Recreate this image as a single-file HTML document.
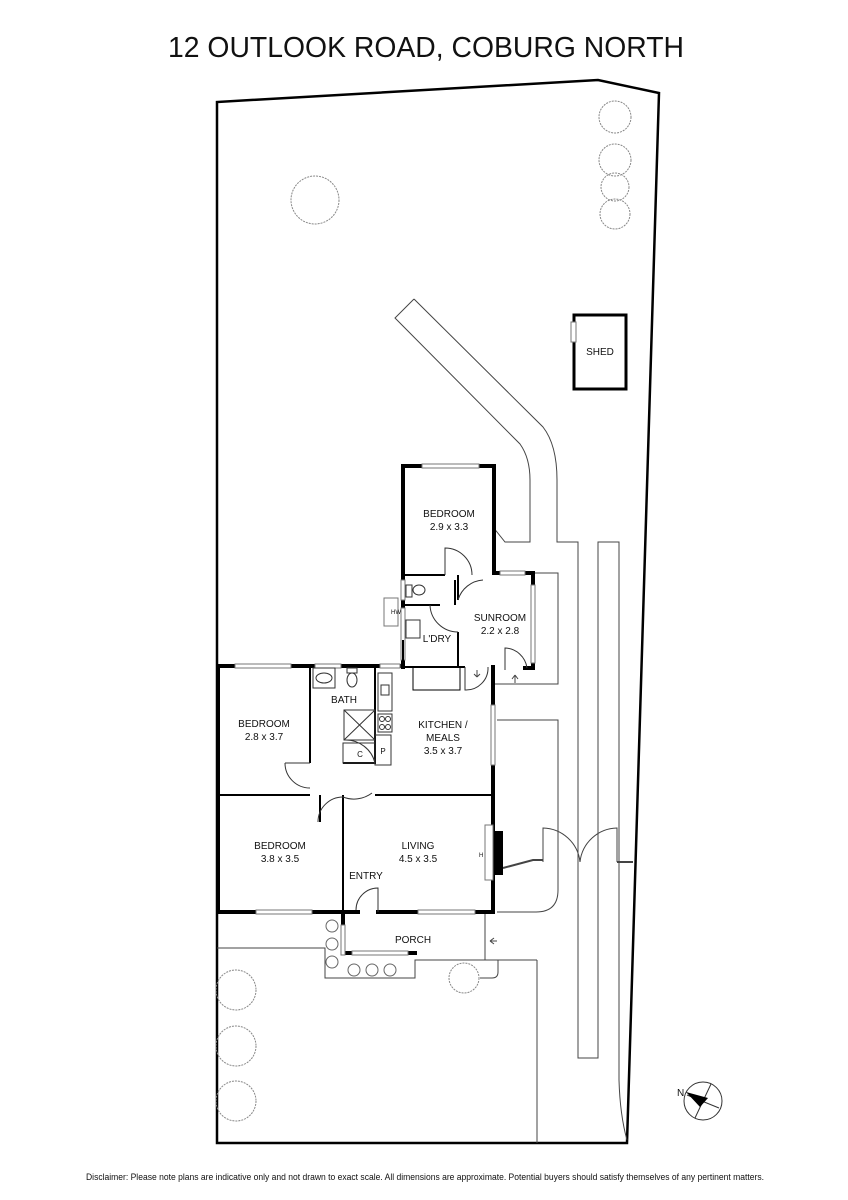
<!DOCTYPE html>
<html><head><meta charset="utf-8"><style>
html,body{margin:0;padding:0;background:#fff;}
svg{display:block;}
text{font-family:"Liberation Sans",Arial,sans-serif;fill:#111;}
</style></head><body>
<svg width="848" height="1200" viewBox="0 0 848 1200" xmlns="http://www.w3.org/2000/svg">
<rect width="848" height="1200" fill="#fff"/>
<text x="426" y="57" font-size="29" text-anchor="middle" textLength="516" lengthAdjust="spacingAndGlyphs">12 OUTLOOK ROAD, COBURG NORTH</text>

<!-- boundary -->
<path d="M217,1143 V102 L598,80 L659,93 L627,1143 Z" fill="none" stroke="#000" stroke-width="2.5"/>

<!-- trees -->
<g fill="none" stroke="#888" stroke-width="1" stroke-dasharray="2,1">
<circle cx="315" cy="200" r="24"/>
<circle cx="615" cy="117" r="16"/><circle cx="615" cy="160" r="16"/><circle cx="615" cy="187" r="14"/><circle cx="615" cy="214" r="15"/>
<circle cx="236" cy="990" r="20"/><circle cx="236" cy="1046" r="20"/><circle cx="236" cy="1101" r="20"/>
<circle cx="464" cy="978" r="15"/>
</g>
<g fill="none" stroke="#666" stroke-width="1">
<circle cx="332" cy="926" r="6"/><circle cx="332" cy="944" r="6"/><circle cx="332" cy="962" r="6"/>
<circle cx="354" cy="970" r="6"/><circle cx="372" cy="970" r="6"/><circle cx="390" cy="970" r="6"/>
</g>

<!-- shed -->
<rect x="574" y="315" width="52" height="74" fill="none" stroke="#000" stroke-width="3"/>
<rect x="571" y="322" width="5" height="20" fill="#fff" stroke="#777" stroke-width="1"/>
<text x="600" y="355" font-size="10" text-anchor="middle">SHED</text>

<!-- paths / landscape lines -->
<g fill="none" stroke="#444" stroke-width="1">
<path d="M414,299 L395,318 L520,444 Q530,458 530,480 V542 H505 L493,527"/>
<path d="M414,299 L543,427 Q557,445 557,480 V542 H578 V1058 H598 V542 H619 V1080 Q620,1115 627,1140"/>
<path d="M533,573 H558 V684 H495"/>
<path d="M497,720 H558 V890 Q558,912 536,912 H497"/>
<path d="M543,862 V828 A38,38 0 0 1 580,862"/>
<path d="M617,862 V828 A38,38 0 0 0 580,862"/>
<path d="M617,862 H633" stroke-width="2"/>
<path d="M503,868 L533,860 H543" stroke-width="2"/>
<path d="M217,948 H325 V978 H415 V960 H498 V972 Q498,978 492,978 H480"/>
<path d="M415,960 V978"/>
<path d="M485,912 V960"/>
<path d="M537,960 V1143"/>
<path d="M498,960 H537"/>
<path d="M497,941 H490 M490,941 l4,-3 M490,941 l4,3"/>
<path d="M515,683 V675 M515,675 l-3,4 M515,675 l3,4"/>
<path d="M477,670 V677 M477,677 l-3,-3 M477,677 l3,-3"/>
</g>

<!-- thick walls -->
<g fill="none" stroke="#000" stroke-width="4" stroke-linecap="square">
<path d="M218,666 H400"/>
<path d="M218,666 V912 H358"/>
<path d="M378,912 H493 V667"/>
<path d="M403,667 V466 H494 V573 H533 V668 H525"/>
<path d="M343,912 V953 H415"/>
<path d="M493,833 h8 v40 h-8 z" fill="#000"/>
</g>
<!-- windows -->
<g fill="#fff" stroke="#777" stroke-width="1">
<rect x="235" y="664" width="56" height="4"/><rect x="315" y="664" width="26" height="4"/><rect x="380" y="664" width="20" height="4"/>
<rect x="256" y="910" width="56" height="4"/><rect x="418" y="910" width="57" height="4"/>
<rect x="422" y="464" width="57" height="4"/><rect x="500" y="571" width="25" height="4"/>
<rect x="531" y="585" width="4" height="78"/>
<rect x="491" y="705" width="4" height="60"/>
<rect x="401" y="580" width="4" height="20"/><rect x="401" y="608" width="4" height="52"/>
<rect x="341" y="925" width="4" height="30"/><rect x="352" y="951" width="56" height="4"/>
<rect x="485" y="825" width="8" height="55"/>
<rect x="384" y="598" width="14" height="28"/>
</g>
<!-- thin walls -->
<g fill="none" stroke="#000" stroke-width="2">
<path d="M403,575 H445"/><path d="M458,575 V600 M458,632 V667"/>
<path d="M403,605 H440"/><path d="M455,580 V605"/>
<path d="M403,667 H458"/><path d="M403,665 V640"/>
<path d="M458,667 H465"/>
<path d="M310,666 V763"/><path d="M218,795 H310"/><path d="M320,795 V822"/>
<path d="M343,795 V912"/><path d="M375,795 H493"/>
<path d="M375,666 V752"/><path d="M343,763 H375 V752"/>
<path d="M413,667 V690 H460 V667" stroke-width="1"/>
</g>
<!-- fixtures & doors -->
<g fill="none" stroke="#333" stroke-width="1">
<path d="M445,575 V548 A27,27 0 0 1 472,575"/>
<path d="M458,632 A28,28 0 0 1 430,605"/>
<path d="M458,600 A28,28 0 0 1 483,580"/>
<path d="M505,670 V648 A23,23 0 0 1 527,668"/>
<path d="M465,667 V690 A22,22 0 0 0 488,667"/>
<path d="M285,763 A25,25 0 0 0 310,788"/><path d="M285,763 H310"/>
<path d="M343,797 A25,25 0 0 0 318,822"/><path d="M343,797 A30,30 0 0 0 372,793"/>
<path d="M378,912 V888 A22,22 0 0 0 356,910"/>
<path d="M375,763 A30,30 0 0 0 345,740"/>
<rect x="313" y="668" width="22" height="20"/><ellipse cx="324" cy="678" rx="8" ry="5"/>
<ellipse cx="352" cy="680" rx="5" ry="7"/><rect x="347" y="668" width="10" height="5"/>
<rect x="344" y="710" width="31" height="30"/><path d="M344,710 L375,740 M375,710 L344,740"/>
<rect x="343" y="743" width="32" height="20"/><rect x="375" y="735" width="16" height="30"/>
<rect x="378" y="673" width="14" height="38"/><rect x="381" y="685" width="8" height="10"/>
<rect x="378" y="714" width="14" height="18"/>
<circle cx="382" cy="719" r="2.5"/><circle cx="388" cy="719" r="2.5"/><circle cx="382" cy="727" r="2.5"/><circle cx="388" cy="727" r="2.5"/>
<ellipse cx="419" cy="590" rx="6" ry="5"/><rect x="406" y="585" width="6" height="12"/>
<rect x="406" y="620" width="14" height="18"/>
</g>
<text x="391" y="614" font-size="6">HW</text>
<text x="360" y="757" font-size="8" text-anchor="middle">C</text>
<text x="383" y="754" font-size="8" text-anchor="middle">P</text>
<text x="479" y="857" font-size="6">H</text>

<g font-size="10" text-anchor="middle">
<text x="449" y="517">BEDROOM</text><text x="449" y="530">2.9 x 3.3</text>
<text x="500" y="621">SUNROOM</text><text x="500" y="634">2.2 x 2.8</text>
<text x="437" y="642">L'DRY</text>
<text x="344" y="703">BATH</text>
<text x="264" y="727">BEDROOM</text><text x="264" y="740">2.8 x 3.7</text>
<text x="443" y="728">KITCHEN /</text><text x="443" y="741">MEALS</text><text x="443" y="754">3.5 x 3.7</text>
<text x="280" y="849">BEDROOM</text><text x="280" y="862">3.8 x 3.5</text>
<text x="418" y="849">LIVING</text><text x="418" y="862">4.5 x 3.5</text>
<text x="366" y="879">ENTRY</text>
<text x="413" y="943">PORCH</text>
</g>

<!-- compass -->
<g fill="none" stroke="#333" stroke-width="1">
<circle cx="703" cy="1101" r="19"/>
<path d="M695,1118 L711,1084 M687,1095 L719,1108"/>
</g>
<path d="M686,1092 L708,1098 L700,1107 Z" fill="#000"/>
<text x="677" y="1096" font-size="10">N</text>

<text x="425" y="1180" font-size="9" text-anchor="middle" textLength="678" lengthAdjust="spacingAndGlyphs">Disclaimer: Please note plans are indicative only and not drawn to exact scale. All dimensions are approximate. Potential buyers should satisfy themselves of any pertinent matters.</text>
</svg>
</body></html>
